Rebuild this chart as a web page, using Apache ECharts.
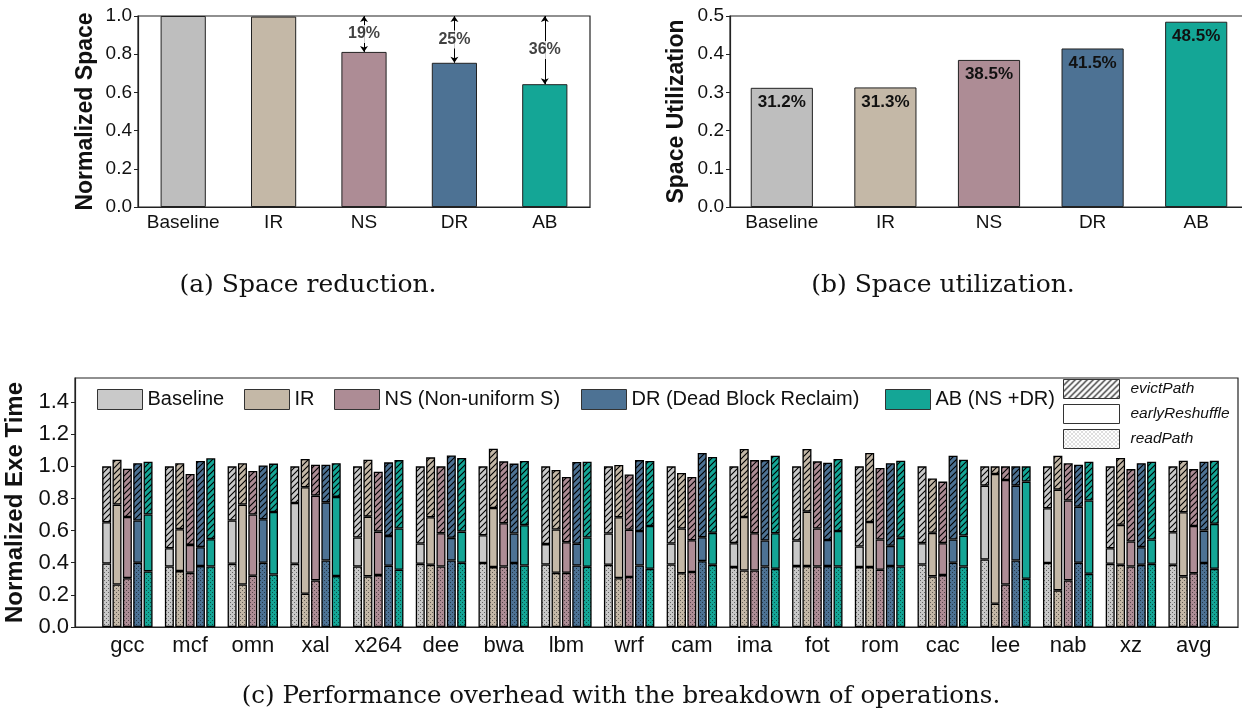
<!DOCTYPE html>
<html><head><meta charset="utf-8">
<script src="https://cdn.jsdelivr.net/npm/echarts@6/dist/echarts.min.js"></script>
<style>html,body{margin:0;padding:0;background:#fff}#c{width:1242px;height:715px}</style>
</head><body><div id="c"></div>
<script>
// ---------- DATA ----------
const methods = ['Baseline', 'IR', 'NS', 'DR', 'AB'];
const spaceNorm = [1.0, 0.997, 0.812, 0.755, 0.643];
const reductionLabels = ['', '', '19%', '25%', '36%'];
const spaceUtil = [0.312, 0.313, 0.385, 0.415, 0.485];

const benchmarks = ['gcc','mcf','omn','xal','x264','dee','bwa','lbm','wrf','cam','ima','fot','rom','cac','lee','nab','xz','avg'];
const legendNames = ['Baseline', 'IR', 'NS (Non-uniform S)', 'DR (Dead Block Reclaim)', 'AB (NS +DR)'];
const opNames = ['evictPath', 'earlyReshuffle', 'readPath'];

// cumulative levels: top of readPath, top of earlyReshuffle, total (top of evictPath)
const baseRead  = [0.395,0.377,0.393,0.393,0.377,0.393,0.398,0.389,0.387,0.389,0.373,0.379,0.373,0.389,0.420,0.398,0.393,0.387];
const baseEarly = [0.652,0.490,0.663,0.772,0.557,0.520,0.571,0.516,0.582,0.520,0.522,0.538,0.501,0.522,0.880,0.739,0.490,0.590];
const baseTotal = [1.0,1.0,1.0,1.0,1.0,1.0,1.0,1.0,1.0,1.0,1.0,1.0,1.0,1.0,1.0,1.0,1.0,1.0];

const irRead  = [0.265,0.348,0.265,0.207,0.315,0.387,0.373,0.337,0.304,0.335,0.352,0.379,0.373,0.315,0.145,0.228,0.387,0.315];
const irEarly = [0.762,0.609,0.762,0.870,0.687,0.683,0.741,0.607,0.683,0.613,0.685,0.718,0.654,0.586,0.952,0.855,0.636,0.714];
const irTotal = [1.041,1.019,1.019,1.046,1.041,1.056,1.110,0.977,1.008,0.959,1.108,1.108,1.083,0.925,1.0,1.066,1.052,1.035];

const nsRead  = [0.304,0.337,0.319,0.290,0.323,0.377,0.377,0.337,0.311,0.342,0.352,0.377,0.356,0.323,0.265,0.290,0.377,0.335];
const nsEarly = [0.685,0.511,0.700,0.818,0.594,0.584,0.646,0.528,0.605,0.540,0.584,0.613,0.545,0.522,0.915,0.787,0.532,0.629];
const nsTotal = [0.985,0.952,0.971,1.010,0.967,1.0,1.031,0.934,0.950,0.934,1.039,1.031,0.990,0.905,1.0,1.019,0.983,0.983];

const drRead  = [0.400,0.379,0.400,0.414,0.381,0.414,0.398,0.383,0.383,0.410,0.377,0.379,0.379,0.400,0.414,0.400,0.387,0.398];
const drEarly = [0.663,0.497,0.671,0.776,0.567,0.555,0.582,0.518,0.598,0.559,0.538,0.542,0.505,0.545,0.880,0.749,0.497,0.600];
const drTotal = [1.020,1.033,1.006,1.010,1.025,1.068,1.017,1.027,1.039,1.083,1.039,1.023,1.020,1.066,1.0,1.010,1.020,1.029];

const abRead  = [0.346,0.377,0.327,0.317,0.356,0.400,0.383,0.375,0.362,0.387,0.362,0.377,0.377,0.377,0.300,0.331,0.393,0.362];
const abEarly = [0.700,0.547,0.716,0.810,0.613,0.594,0.634,0.557,0.629,0.586,0.584,0.598,0.555,0.569,0.905,0.787,0.545,0.642];
const abTotal = [1.029,1.050,1.017,1.020,1.039,1.052,1.033,1.029,1.033,1.058,1.066,1.046,1.035,1.041,1.0,1.029,1.029,1.035];

const levels = [
  [baseRead, baseEarly, baseTotal],
  [irRead, irEarly, irTotal],
  [nsRead, nsEarly, nsTotal],
  [drRead, drEarly, drTotal],
  [abRead, abEarly, abTotal]
];

// ---------- STYLE ----------
const FONT = '"Liberation Sans", Arial, Helvetica, sans-serif';
const topColors = ['#bebebe', '#c4b8a7', '#ad8c95', '#4d7294', '#14a696'];
const botColors = ['#c9c9c9', '#c4b8a7', '#ad8c95', '#4d7294', '#14a696'];
const legendLefts = [97, 244, 334, 581, 885];

function hatch(bg) {
  const c = document.createElement('canvas'); c.width = c.height = 6;
  const x = c.getContext('2d');
  x.fillStyle = bg; x.fillRect(0, 0, 6, 6);
  x.strokeStyle = '#000'; x.lineWidth = 1.15;
  x.beginPath();
  x.moveTo(0, 6); x.lineTo(6, 0);
  x.moveTo(-1, 1); x.lineTo(1, -1);
  x.moveTo(5, 7); x.lineTo(7, 5);
  x.stroke();
  return { image: c, repeat: 'repeat' };
}
function dots(bg) {
  const c = document.createElement('canvas'); c.width = c.height = 4;
  const x = c.getContext('2d');
  x.fillStyle = bg; x.fillRect(0, 0, 4, 4);
  x.fillStyle = 'rgba(0,0,0,0.5)';
  x.fillRect(0, 0, 1, 1); x.fillRect(2, 2, 1, 1);
  return { image: c, repeat: 'repeat' };
}

const chart = echarts.init(document.getElementById('c'), null, { renderer: 'canvas' });

function catAxis(grid, data, fs, margin) {
  return {
    type: 'category', gridIndex: grid, data: data,
    axisLine: { show: true, lineStyle: { color: '#222', width: 1.2 } },
    axisTick: { show: false },
    axisLabel: { interval: 0, fontSize: fs, color: '#111', fontFamily: FONT, margin: margin },
    splitLine: { show: false }
  };
}
function valAxis(grid, max, interval, name, fs, nameFs, nameGap, showMaxLabel) {
  return {
    type: 'value', gridIndex: grid, min: 0, max: max, interval: interval,
    name: name, nameLocation: 'middle', nameGap: nameGap, nameRotate: 90,
    nameTextStyle: { fontSize: nameFs, fontWeight: 'bold', color: '#111', fontFamily: FONT },
    axisLine: { show: true, lineStyle: { color: '#222', width: 1.2 } },
    axisTick: { show: true, inside: false, length: 4, lineStyle: { color: '#222' } },
    axisLabel: { fontSize: fs, color: '#111', fontFamily: FONT, margin: 6, showMaxLabel: showMaxLabel,
      formatter: v => v.toFixed(1) },
    splitLine: { show: false }
  };
}

const series = [];

// (a) normalized space
series.push({
  type: 'bar', xAxisIndex: 0, yAxisIndex: 0, barWidth: '50%',
  data: spaceNorm.map((v, i) => ({ value: v, itemStyle: { color: topColors[i] } })),
  itemStyle: { borderColor: '#222', borderWidth: 1 },
  emphasis: { disabled: true },
  markLine: {
    silent: true, symbol: ['arrow', 'arrow'], symbolSize: 6,
    label: { show: false },
    lineStyle: { color: '#000', type: 'solid', width: 1 },
    emphasis: { disabled: true },
    data: spaceNorm.map((v, i) => reductionLabels[i] ? [{ coord: [methods[i], 1.0] }, { coord: [methods[i], v] }] : null).filter(Boolean)
  }
});
series.push({
  type: 'scatter', xAxisIndex: 0, yAxisIndex: 0, symbolSize: 0, z: 5,
  data: spaceNorm.map((v, i) => reductionLabels[i] ? { value: [methods[i], (1 + v) / 2], lab: reductionLabels[i] } : null).filter(Boolean),
  label: { show: true, position: 'inside', formatter: p => p.data.lab, fontSize: 16, fontWeight: 'bold',
    color: '#111', fontFamily: FONT, backgroundColor: '#fff', padding: [1, 1] },
  emphasis: { disabled: true }
});

// (b) space utilization
series.push({
  type: 'bar', xAxisIndex: 1, yAxisIndex: 1, barWidth: '60%',
  data: spaceUtil.map((v, i) => ({ value: v, itemStyle: { color: topColors[i] } })),
  itemStyle: { borderColor: '#222', borderWidth: 1 },
  label: { show: true, position: 'insideTop', distance: 6, formatter: p => (p.value * 100).toFixed(1) + '%',
    fontSize: 17, fontWeight: 'bold', color: '#111', fontFamily: FONT },
  emphasis: { disabled: true }
});

// (c) breakdown
levels.forEach((lv, m) => {
  const [r, e, t] = lv;
  const readSeg = r.map(v => v);
  const earlySeg = e.map((v, i) => +(v - r[i]).toFixed(3));
  const evictSeg = t.map((v, i) => +(v - e[i]).toFixed(3));
  const common = { type: 'bar', xAxisIndex: 3, yAxisIndex: 3, stack: 'm' + m, barWidth: 9, barGap: '15%',
    emphasis: { disabled: true } };
  series.push(Object.assign({}, common, { name: 'readPath', data: readSeg,
    itemStyle: { color: dots(botColors[m]), borderColor: '#000', borderWidth: 1.3 } }));
  series.push(Object.assign({}, common, { name: legendNames[m], data: earlySeg,
    itemStyle: { color: botColors[m], borderColor: '#000', borderWidth: 1.3 } }));
  series.push(Object.assign({}, common, { name: 'evictPath', data: evictSeg,
    itemStyle: { color: hatch(botColors[m]), borderColor: '#000', borderWidth: 1.3 } }));
});
series.push({ type: 'line', name: 'earlyReshuffle', xAxisIndex: 2, yAxisIndex: 2, data: [] });

const mainLegends = legendNames.map((n, i) => ({
  data: [{ name: n, itemStyle: { color: botColors[i] } }],
  left: legendLefts[i], top: 389, padding: 0, orient: 'horizontal', icon: 'rect',
  itemWidth: 45, itemHeight: 20, selectedMode: false,
  textStyle: { fontSize: 20, color: '#111', fontFamily: FONT },
  itemStyle: { borderColor: '#333', borderWidth: 1 }
}));

const option = {
  animation: false,
  backgroundColor: '#fff',
  textStyle: { fontFamily: FONT },
  grid: [
    { left: 138, top: 16, width: 452, height: 191, show: true, borderColor: '#222', borderWidth: 1.2, outerBoundsMode: 'none' },
    { left: 730, top: 16, width: 518, height: 191, show: true, borderColor: '#222', borderWidth: 1.2, outerBoundsMode: 'none' },
    { left: 75, top: 378, width: 1163, height: 249, show: true, borderColor: '#222', borderWidth: 1.2, outerBoundsMode: 'none' },
    { left: 96, top: 378, width: 1129, height: 249, show: false, outerBoundsMode: 'none' }
  ],
  xAxis: [
    catAxis(0, methods, 19, 6),
    catAxis(1, methods, 19, 6),
    { type: 'value', gridIndex: 2, min: 0, max: 1, axisLine: { show: true, lineStyle: { color: '#222', width: 1.2 } },
      axisTick: { show: false }, axisLabel: { show: false }, splitLine: { show: false } },
    Object.assign(catAxis(3, benchmarks, 22, 8), { axisLine: { show: false } })
  ],
  yAxis: [
    valAxis(0, 1.0, 0.2, 'Normalized Space', 19, 23, 41, true),
    valAxis(1, 0.5, 0.1, 'Space Utilization', 19, 23, 42, true),
    valAxis(2, 1.55, 0.2, 'Normalized Exe Time', 22, 24, 42, false),
    { type: 'value', gridIndex: 3, min: 0, max: 1.55, show: false }
  ],
  legend: mainLegends.concat([
    { data: [
        { name: 'evictPath', itemStyle: { color: hatch('#fff') } },
        { name: 'earlyReshuffle', itemStyle: { color: '#fff' } },
        { name: 'readPath', itemStyle: { color: dots('#fff') } }
      ],
      left: 1063, top: 379, padding: 0, orient: 'vertical', icon: 'rect', itemWidth: 56, itemHeight: 19, itemGap: 5,
      selectedMode: false, textStyle: { fontSize: 15.5, fontStyle: 'italic', color: '#111', fontFamily: FONT, padding: [0, 0, 0, 6] },
      itemStyle: { borderColor: '#333', borderWidth: 1 } }
  ]),
  graphic: [
    { type: 'text', x: 308, y: 285, style: { text: '(a) Space reduction.', textAlign: 'center', textVerticalAlign: 'middle',
      font: '25px "DejaVu Serif"', fill: '#111' } },
    { type: 'text', x: 943, y: 285, style: { text: '(b) Space utilization.', textAlign: 'center', textVerticalAlign: 'middle',
      font: '25px "DejaVu Serif"', fill: '#111' } },
    { type: 'text', x: 621, y: 697, style: { text: '(c) Performance overhead with the breakdown of operations.', textAlign: 'center',
      textVerticalAlign: 'middle', font: '24.5px "DejaVu Serif"', fill: '#111' } }
  ],
  series: series
};
chart.setOption(option);
</script>
</body></html>
